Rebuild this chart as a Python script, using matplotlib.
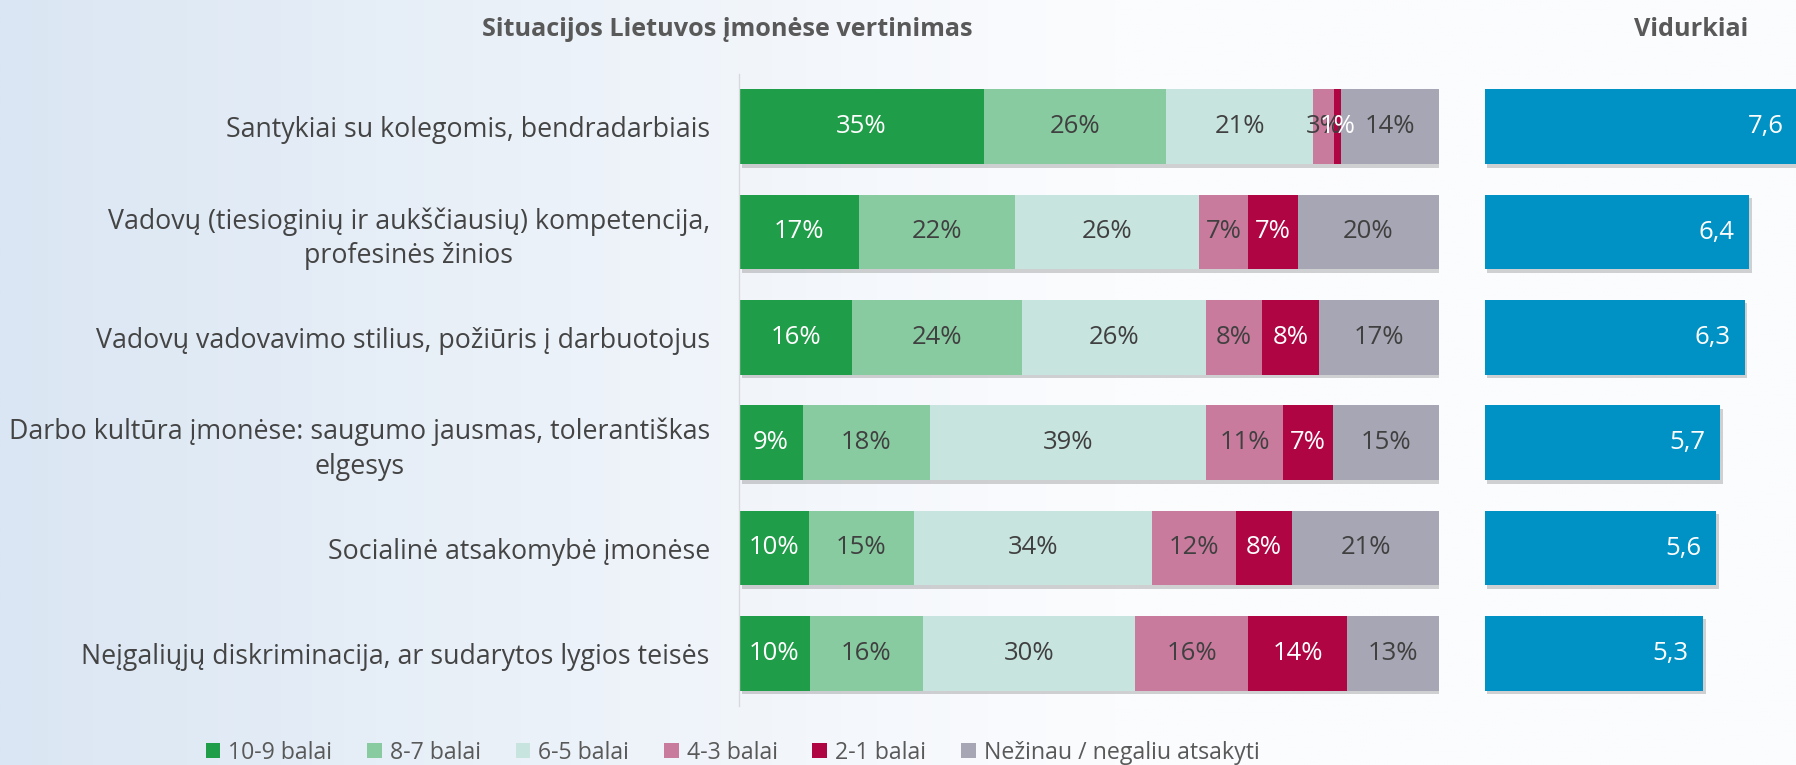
import numpy as np
import matplotlib
matplotlib.use("Agg")
import matplotlib.pyplot as plt
import matplotlib.patheffects as pe
from matplotlib.patches import Patch

plt.rcParams['font.family'] = ['Open Sans', 'DejaVu Sans']

# ---------------- data ----------------
categories = [
    "Santykiai su kolegomis, bendradarbiais",
    "Vadovų (tiesioginių ir aukščiausių) kompetencija,\nprofesinės žinios",
    "Vadovų vadovavimo stilius, požiūris į darbuotojus",
    "Darbo kultūra įmonėse: saugumo jausmas, tolerantiškas\nelgesys",
    "Socialinė atsakomybė įmonėse",
    "Neįgaliųjų diskriminacija, ar sudarytos lygios teisės",
]
series_names = ["10-9 balai", "8-7 balai", "6-5 balai", "4-3 balai",
                "2-1 balai", "Nežinau / negaliu atsakyti"]
s_10_9 = [35, 17, 16, 9, 10, 10]
s_8_7 = [26, 22, 24, 18, 15, 16]
s_6_5 = [21, 26, 26, 39, 34, 30]
s_4_3 = [3, 7, 8, 11, 12, 16]
s_2_1 = [1, 7, 8, 7, 8, 14]
s_na = [14, 20, 17, 15, 21, 13]
averages = [7.6, 6.4, 6.3, 5.7, 5.6, 5.3]

title_left = "Situacijos Lietuvos įmonėse vertinimas"
title_right = "Vidurkiai"

colors = ["#1F9D48", "#88CBA1", "#C8E4DF", "#C97B9D", "#B00543", "#A7A6B4"]
text_colors = ["white", "#404040", "#404040", "#404040", "white", "#404040"]
blue = "#0092C5"

W, H = 1796, 765
fig = plt.figure(figsize=(W / 100, H / 100), dpi=100)

# ---------------- background gradient ----------------
bg = fig.add_axes([0, 0, 1, 1], zorder=-10)
xs = np.linspace(0, 1, 600)
ys = np.linspace(0, 1, 200)
X, Y = np.meshgrid(xs, ys)
f = np.clip(1 - X / 0.62, 0, 1) ** 1.1
left_c = np.array([218, 230, 243]) / 255
right_c = np.array([251, 252, 254]) / 255
img = right_c[None, None, :] - (right_c - left_c)[None, None, :] * f[..., None]
bg.imshow(img, aspect='auto', extent=[0, 1, 0, 1], origin='lower')
bg.set_axis_off()

shadow = [pe.SimplePatchShadow(offset=(2, -2.5), shadow_rgbFace='#7f7f7f', alpha=0.35), pe.Normal()]

# ---------------- left stacked chart ----------------
ax = fig.add_axes([739 / W, 1 - 706 / H, 700 / W, (706 - 74) / H])
ax.patch.set_alpha(0)
data = np.array([s_10_9, s_8_7, s_6_5, s_4_3, s_2_1, s_na], dtype=float)
shares = data / data.sum(axis=0) * 100
y = np.arange(len(categories))
left = np.zeros(len(categories))
for i, name in enumerate(series_names):
    bars = ax.barh(y, shares[i], left=left, height=0.71, color=colors[i], label=name)
    for b in bars:
        b.set_path_effects(shadow)
    for j in range(len(categories)):
        ax.text(left[j] + shares[i][j] / 2, y[j], f"{int(data[i][j])}%",
                ha='center', va='center', fontsize=18.5, color=text_colors[i])
    left += shares[i]

ax.set_xlim(0, 100)
ax.set_ylim(len(categories) - 0.5, -0.5)
ax.set_yticks(y)
ax.set_yticklabels(categories, fontsize=19.3, color='#444444')
for lab in ax.get_yticklabels():
    lab.set_multialignment('center')
    lab.set_linespacing(1.3)
ax.tick_params(axis='y', length=0, pad=21)
ax.set_xticks([])
for s in ['top', 'right', 'bottom']:
    ax.spines[s].set_visible(False)
ax.spines['left'].set_color('#D9D9D9')
ax.spines['left'].set_linewidth(1.0)

# ---------------- right averages chart ----------------
ax2 = fig.add_axes([1484.5 / W, 1 - 706 / H, (W - 1484.5) / W, (706 - 74) / H])
ax2.patch.set_alpha(0)
bars2 = ax2.barh(y, averages, height=0.71, color=blue)
for b in bars2:
    b.set_path_effects(shadow)
for j, a in enumerate(averages):
    ax2.annotate(f"{a:.1f}".replace('.', ','), xy=(a, y[j]), xytext=(-10.5, 0),
                 textcoords='offset points', ha='right', va='center',
                 fontsize=18.5, color='white', annotation_clip=False)
ax2.set_xlim(0, 311.5 / 41.3)
ax2.set_ylim(len(categories) - 0.5, -0.5)
ax2.set_axis_off()

# ---------------- titles ----------------
fig.text(727 / W, 1 - 29 / H, title_left, ha='center', va='center',
         fontsize=18.2, fontweight='bold', color='#595959')
fig.text(1691.5 / W, 1 - 29 / H, title_right, ha='center', va='center',
         fontsize=18.2, fontweight='bold', color='#595959')

# ---------------- legend ----------------
handles = [Patch(facecolor=c, edgecolor='none') for c in colors]
fig.legend(handles, series_names, loc='center', bbox_to_anchor=(732.5 / W, 1 - 753 / H),
           ncol=6, frameon=False, fontsize=16.7, labelcolor='#595959',
           handlelength=0.63, handleheight=0.63, handletextpad=0.35,
           columnspacing=1.5, borderpad=0, borderaxespad=0)

fig.savefig("out.png", dpi=100)
